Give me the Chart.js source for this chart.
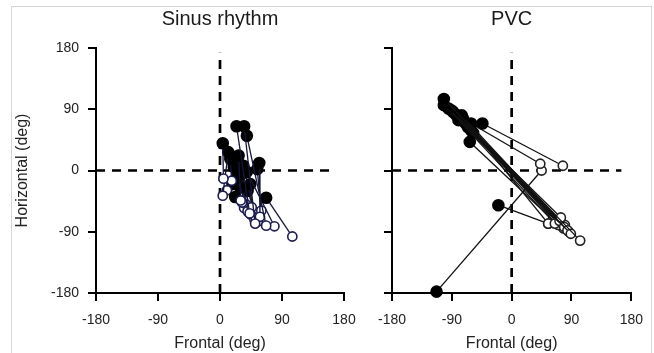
<!DOCTYPE html>
<html>
<head>
<meta charset="utf-8">
<script src="https://cdn.jsdelivr.net/npm/chart.js@4"></script>
<style>
  html, body { margin: 0; padding: 0; background: #fff; }
  body { width: 654px; height: 353px; position: relative; overflow: hidden; }
  #frame { position: absolute; left: 11px; top: 6px; width: 639px; height: 400px; border: 1px solid #d6d6d6; }
  canvas { position: absolute; top: 0; }
  #sinus { left: 0; }
  #pvc { left: 330px; }
</style>
</head>
<body>
<div id="frame"></div>
<canvas id="sinus" width="370" height="353"></canvas>
<canvas id="pvc" width="324" height="353"></canvas>
<script>
const FONT = '"Liberation Sans", Arial, Helvetica, sans-serif';

const tickValues = [-180, -90, 0, 90, 180];
const zeroLineX = [-180, 165];   // horizontal dashed line extent
const zeroLineY = [-180, 173];   // vertical dashed line extent

// sinus rhythm: filled (start) -> open (end)
const sinusStartX = [4, 12, 15, 24, 35, 39, 27, 57, 54, 67, 22, 39, 44, 34, 25, 30, 20, 28, 32, 18, 40];
const sinusStartY = [40, 27, 17, 65, 65, 51, 22, 11, 2, -40, -39, -2, -20, 7, -10, -25, 5, 10, -5, -20, -30];
const sinusEndX = [5, 4, 17, 43, 51, 67, 30, 58, 60, 105, 32, 79, 46, 52, 40, 50, 10, 38, 45, 35, 55];
const sinusEndY = [-12, -37, -15, -63, -78, -81, -44, -68, -59, -97, -47, -82, -54, -70, -60, -72, -29, -50, -65, -55, -75];

// PVC
const pvcStartX = [-102, -102, -95, -88, -83, -75, -80, -73, -61, -44, -63, -61, -20, -113, -90, -70, -66, -78, -58];
const pvcStartY = [105, 96, 91, 86, 81, 81, 74, 76, 69, 69, 42, 59, -51, -178, 88, 70, 64, 80, 55];
const pvcEndX = [103, 89, 84, 79, 74, 72, 65, 55, 43, 77, 70, 78, 55, 45, 80, 68, 62, 86, 75];
const pvcEndY = [-103, -93, -88, -83, -69, -74, -78, -78, 10, 7, -80, -85, -78, 0, -80, -76, -72, -90, -82];

function pairSets(sx, sy, ex, ey, lineColor, openColor) {
  return sx.map((_, i) => ({
    data: [{x: sx[i], y: sy[i]}, {x: ex[i], y: ey[i]}],
    showLine: true,
    borderColor: lineColor,
    borderWidth: 1.3,
    pointRadius: [5.5, 4.6],
    pointBorderWidth: 1.6,
    pointBackgroundColor: ['#000', '#fff'],
    pointBorderColor: ['#000', openColor],
    clip: false,
    order: 1
  }));
}

function zeroLines() {
  const dash = {showLine: true, borderColor: '#000', borderWidth: 2.7, borderDash: [9, 7],
                pointRadius: 0, clip: false, order: 10};
  return [
    Object.assign({data: zeroLineX.map(v => ({x: v, y: 0}))}, dash),
    Object.assign({data: zeroLineY.map(v => ({x: 0, y: v}))}, dash)
  ];
}

function setTicks(scale) {
  scale.ticks = tickValues.map(v => ({value: v}));
}

function makeChart(id, title, datasets, yLabels, padLeft, yWidth, padRight) {
  const axisCommon = {
    type: 'linear', min: -180, max: 180,
    afterBuildTicks: setTicks,
    grid: {drawOnChartArea: false, drawTicks: true, tickLength: 8, color: '#000', lineWidth: 2},
    border: {display: true, color: '#000', width: 2}
  };
  return new Chart(document.getElementById(id), {
    type: 'scatter',
    data: {datasets: datasets},
    options: {
      responsive: false,
      animation: false,
      events: [],
      layout: {padding: {left: padLeft, right: padRight, top: 0, bottom: 0}},
      plugins: {
        legend: {display: false},
        tooltip: {enabled: false},
        title: {
          display: true, text: title, fullSize: false, color: '#1a1a1a',
          font: {size: 20, family: FONT, weight: 'normal'},
          padding: {top: 7, bottom: 17}
        }
      },
      scales: {
        x: Object.assign({}, axisCommon, {
          ticks: {color: '#222', font: {size: 14, family: FONT}, padding: 11,
                  maxRotation: 0, autoSkip: false, callback: v => String(v)},
          title: {display: true, text: 'Frontal (deg)', color: '#222',
                  font: {size: 16, family: FONT}, padding: {top: 0, bottom: 0}},
          afterFit: s => { s.height = 60; }
        }),
        y: Object.assign({}, axisCommon, {
          ticks: {display: yLabels, color: '#222', font: {size: 14, family: FONT}, padding: 9,
                  autoSkip: false, callback: v => String(v)},
          title: {display: yLabels, text: 'Horizontal (deg)', color: '#222',
                  font: {size: 16, family: FONT}, padding: {top: 3, bottom: 0}},
          afterFit: s => { s.width = yWidth; }
        })
      }
    }
  });
}

makeChart('sinus', 'Sinus rhythm',
  zeroLines().concat(pairSets(sinusStartX, sinusStartY, sinusEndX, sinusEndY, '#16163a', '#1c1c50')),
  true, 10, 86, 26);

makeChart('pvc', 'PVC',
  zeroLines().concat(pairSets(pvcStartX, pvcStartY, pvcEndX, pvcEndY, '#111', '#222')),
  false, 54, 8, 14);
</script>
</body>
</html>
